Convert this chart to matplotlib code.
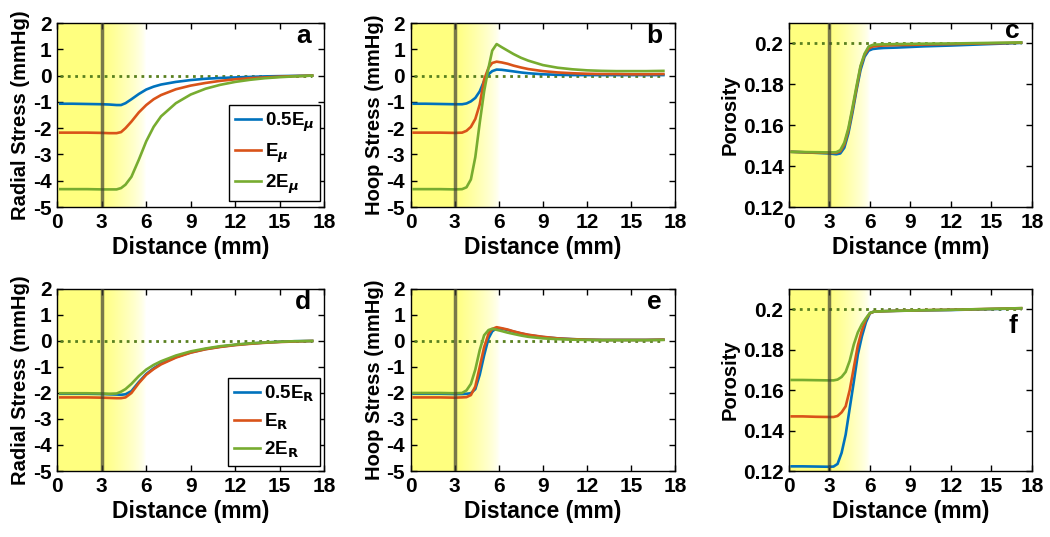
import numpy as np
import matplotlib.pyplot as plt

plt.rcParams['font.family'] = 'Liberation Sans'
plt.rcParams['font.weight'] = 'bold'
plt.rcParams['axes.unicode_minus'] = False

# colours (matlab default order)
c_blue = (0.0, 0.447, 0.741)
c_red = (0.85, 0.325, 0.098)
c_green = (0.466, 0.674, 0.188)

# ---- data ----
# a: radial stress, E_mu
xa = [0.2, 1, 2, 3, 3.5, 4, 4.3, 4.6, 5, 5.5, 6, 6.5, 7, 8, 9, 10, 11, 12, 13, 14, 15, 16, 17.2]
a_half = [-1.07, -1.07, -1.08, -1.09, -1.1, -1.12, -1.12, -1.05, -0.9, -0.7, -0.53, -0.42, -0.34,
          -0.24, -0.17, -0.12, -0.09, -0.07, -0.05, -0.03, -0.02, -0.01, 0]
a_one = [-2.17, -2.17, -2.17, -2.18, -2.19, -2.19, -2.15, -2.0, -1.75, -1.4, -1.12, -0.9, -0.74,
         -0.52, -0.38, -0.28, -0.2, -0.14, -0.1, -0.07, -0.04, -0.02, 0]
a_two = [-4.32, -4.32, -4.32, -4.33, -4.33, -4.33, -4.28, -4.15, -3.85, -3.2, -2.5, -1.95, -1.55,
         -1.05, -0.72, -0.5, -0.35, -0.24, -0.16, -0.1, -0.06, -0.03, 0]

# b: hoop stress, E_mu
xb = [0.2, 1, 2, 3, 3.5, 3.8, 4.1, 4.4, 4.7, 5.0, 5.3, 5.55, 5.85, 6.2, 6.6, 7.0, 7.5, 8.0,
      9, 10, 11, 12, 13, 14, 15, 16, 17.2]
b_half = [-1.07, -1.07, -1.08, -1.09, -1.09, -1.06, -0.98, -0.85, -0.6, -0.2, 0.05, 0.17, 0.23,
          0.22, 0.19, 0.16, 0.12, 0.09, 0.05, 0.03, 0.02, 0.02, 0.02, 0.02, 0.02, 0.02, 0.02]
b_one = [-2.17, -2.17, -2.17, -2.18, -2.17, -2.1, -1.95, -1.65, -1.1, -0.15, 0.3, 0.48, 0.53,
         0.5, 0.45, 0.38, 0.31, 0.25, 0.17, 0.12, 0.09, 0.07, 0.06, 0.06, 0.05, 0.05, 0.06]
b_two = [-4.32, -4.32, -4.32, -4.33, -4.32, -4.25, -3.95, -3.1, -1.8, -0.6, 0.3, 0.95, 1.2,
         1.08, 0.95, 0.82, 0.68, 0.57, 0.4, 0.3, 0.24, 0.2, 0.18, 0.17, 0.17, 0.17, 0.18]

# c: porosity, E_mu
xc = [0.2, 1, 2, 3, 3.5, 3.8, 4.1, 4.4, 4.7, 5.0, 5.3, 5.6, 5.9, 6.2, 6.6, 7, 8, 9, 10, 12, 14, 16, 17.2]
c_half = [0.147, 0.1468, 0.1465, 0.1462, 0.1458, 0.1462, 0.149, 0.156, 0.166, 0.177, 0.187, 0.1935,
          0.1965, 0.1973, 0.1976, 0.1978, 0.198, 0.1983, 0.1986, 0.199, 0.1995, 0.2, 0.2003]
c_one = [0.147, 0.1468, 0.1466, 0.1465, 0.1465, 0.1472, 0.1505, 0.1575, 0.1675, 0.178, 0.1885, 0.1945,
         0.1975, 0.1985, 0.1988, 0.199, 0.1992, 0.1993, 0.1995, 0.1997, 0.2, 0.2002, 0.2004]
c_two = [0.147, 0.1469, 0.1468, 0.1467, 0.1468, 0.1478, 0.1515, 0.1585, 0.1685, 0.179, 0.189, 0.195,
         0.1985, 0.1993, 0.1995, 0.1996, 0.1997, 0.1998, 0.1999, 0.2, 0.2002, 0.2004, 0.2005]

# d: radial stress, E_R
xd = xa
d_half = [-2.03, -2.03, -2.03, -2.04, -2.05, -2.06, -2.07, -2.05, -1.93, -1.58, -1.27, -1.05, -0.87,
          -0.62, -0.44, -0.31, -0.22, -0.15, -0.1, -0.06, -0.03, -0.01, 0]
d_one = [-2.17, -2.17, -2.17, -2.18, -2.19, -2.2, -2.2, -2.17, -2.0, -1.62, -1.3, -1.08, -0.9,
         -0.64, -0.45, -0.32, -0.23, -0.16, -0.11, -0.07, -0.04, -0.02, 0]
d_two = [-2.01, -2.01, -2.01, -2.02, -2.03, -2.02, -1.95, -1.85, -1.65, -1.35, -1.1, -0.92, -0.78,
         -0.56, -0.4, -0.29, -0.2, -0.14, -0.09, -0.06, -0.03, -0.01, 0]

# e: hoop stress, E_R
xe = xb
e_half = [-2.03, -2.03, -2.03, -2.04, -2.04, -2.03, -2.01, -1.85, -1.3, -0.55, 0.1, 0.37, 0.49,
          0.47, 0.42, 0.36, 0.29, 0.23, 0.15, 0.1, 0.07, 0.05, 0.04, 0.04, 0.04, 0.04, 0.05]
e_one = [-2.17, -2.17, -2.17, -2.18, -2.17, -2.16, -2.08, -1.75, -1.0, -0.24, 0.28, 0.46, 0.53,
         0.49, 0.44, 0.37, 0.3, 0.24, 0.16, 0.1, 0.07, 0.05, 0.04, 0.04, 0.04, 0.04, 0.05]
e_two = [-2.0, -2.0, -2.0, -2.01, -2.0, -1.9, -1.65, -1.1, -0.35, 0.22, 0.42, 0.47, 0.43,
         0.38, 0.32, 0.27, 0.21, 0.16, 0.1, 0.07, 0.05, 0.04, 0.03, 0.03, 0.03, 0.03, 0.04]

# f: porosity, E_R
xf = [0.2, 1, 2, 3, 3.3, 3.6, 3.9, 4.2, 4.5, 4.8, 5.1, 5.4, 5.7, 6.0, 6.3, 7, 8, 9, 10, 12, 14, 16, 17.2]
f_half = [0.1223, 0.1223, 0.1222, 0.1221, 0.1222, 0.1235, 0.129, 0.138, 0.151, 0.164, 0.1775, 0.1865,
          0.1935, 0.198, 0.1988, 0.199, 0.1992, 0.1993, 0.1994, 0.1996, 0.1999, 0.2002, 0.2004]
f_one = [0.147, 0.147, 0.1468, 0.1467, 0.1467, 0.1472, 0.149, 0.152, 0.16, 0.171, 0.182, 0.1895,
         0.195, 0.198, 0.1988, 0.199, 0.1992, 0.1993, 0.1995, 0.1997, 0.2, 0.2003, 0.2005]
f_two = [0.165, 0.165, 0.1649, 0.1648, 0.1648, 0.1652, 0.1665, 0.169, 0.1745, 0.1825, 0.1885, 0.1925,
         0.1955, 0.1982, 0.1988, 0.199, 0.1992, 0.1993, 0.1995, 0.1997, 0.2, 0.2003, 0.2005]

labels_mu = ['0.5E$_\\mu$', 'E$_\\mu$', '2E$_\\mu$']
labels_R = ['0.5E$_\\mathbf{R}$', 'E$_\\mathbf{R}$', '2E$_\\mathbf{R}$']

fig = plt.figure(figsize=(10.5, 5.37), dpi=100)

lefts = [0.0546, 0.3911, 0.7514]
widths = [0.254, 0.2519, 0.2314]
bottoms = [0.6145, 0.1229]
heights = [0.3426, 0.339]

panels = [
    (xa, a_half, a_one, a_two, 'Radial Stress (mmHg)', 'a', 0, labels_mu),
    (xb, b_half, b_one, b_two, 'Hoop Stress (mmHg)', 'b', 0, None),
    (xc, c_half, c_one, c_two, 'Porosity', 'c', 0.2, None),
    (xd, d_half, d_one, d_two, 'Radial Stress (mmHg)', 'd', 0, labels_R),
    (xe, e_half, e_one, e_two, 'Hoop Stress (mmHg)', 'e', 0, None),
    (xf, f_half, f_one, f_two, 'Porosity', 'f', 0.2, None),
]

# yellow band: solid to 3 mm, fading to white by ~6 mm
gx = np.linspace(0, 6, 300)
alpha = np.clip((6 - gx) / 3, 0, 1) ** 0.7
grad = np.zeros((1, len(gx), 4))
grad[..., 0] = 1.0
grad[..., 1] = 1.0
grad[..., 2] = 0.5
grad[..., 3] = alpha

for i, (x, yh, y1, y2, ylab, tag, ref, leg) in enumerate(panels):
    row, col = divmod(i, 3)
    ax = fig.add_axes([lefts[col], bottoms[row], widths[col], heights[row]])
    if col == 2:
        ylim = (0.12, 0.21)
        yt = [0.12, 0.14, 0.16, 0.18, 0.2]
    else:
        ylim = (-5, 2)
        yt = list(range(-5, 3))
    ax.imshow(grad, extent=[0, 6, ylim[0], ylim[1]], aspect='auto', zorder=0)
    ax.plot([x[0], x[-1]], [ref, ref], ':', color=(0.35, 0.5, 0.12), lw=2, zorder=2)
    ax.plot(x, yh, color=c_blue, lw=1.9, label=None if leg is None else leg[0], zorder=3)
    ax.plot(x, y1, color=c_red, lw=1.9, label=None if leg is None else leg[1], zorder=3)
    ax.plot(x, y2, color=c_green, lw=1.9, label=None if leg is None else leg[2], zorder=3)
    ax.axvline(3, color=(0.25, 0.25, 0.2), alpha=0.7, lw=2.5, zorder=4)
    ax.set_xlim(0, 18)
    ax.set_ylim(*ylim)
    ax.set_xticks([0, 3, 6, 9, 12, 15, 18])
    ax.set_yticks(yt)
    if col == 2:
        ax.set_yticklabels(['0.12', '0.14', '0.16', '0.18', '0.2'])
    ax.tick_params(direction='in', top=True, right=True, length=4, width=1, labelsize=15, pad=4)
    for s in ax.spines.values():
        s.set_linewidth(1)
    ax.set_xlabel('Distance (mm)', fontsize=16.5, fontweight='bold', labelpad=3)
    ax.set_ylabel(ylab, fontsize=14.5, fontweight='bold', labelpad=2)
    if tag == 'c':
        ax.text(17.1, 0.2062, tag, fontsize=19, fontweight='bold', ha='right', va='center')
    elif tag == 'f':
        ax.text(16.9, 0.1915, tag, fontsize=19, fontweight='bold', ha='right', va='center')
    else:
        ax.text(17.1, 1.5, tag, fontsize=19, fontweight='bold', ha='right', va='center')
    if leg is not None:
        ax.legend(loc='lower right', bbox_to_anchor=(0.985, 0.03),
                  prop={'weight': 'bold', 'size': 13.5}, frameon=True, fancybox=False,
                  edgecolor='black', framealpha=1, handlelength=1.4, handletextpad=0.2,
                  labelspacing=0.4, borderpad=0.3, borderaxespad=0)

fig.savefig('out.png', dpi=100)
